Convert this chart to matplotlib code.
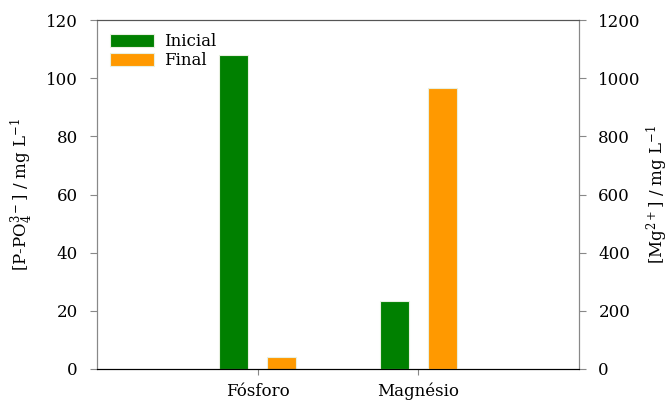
import matplotlib
matplotlib.use("Agg")
import matplotlib.pyplot as plt
import numpy as np

plt.rcParams["font.family"] = ["DejaVu Serif"]
plt.rcParams["mathtext.fontset"] = "dejavuserif"

categories = ["Fósforo", "Magnésio"]
series = ["Inicial", "Final"]
fosforo = [108, 4]        # mg/L P-PO4 (left axis)
magnesio = [234, 966]     # mg/L Mg2+ (right axis)
colors = ["#008000", "#ff9900"]

x = np.arange(len(categories))
bar_w = 0.18
offsets = [-0.15, 0.15]

fig, ax = plt.subplots(figsize=(6.7, 4.03), dpi=100)
fig.subplots_adjust(left=0.145, right=0.864, top=0.950, bottom=0.0844)
ax2 = ax.twinx()

for i, (lab, col) in enumerate(zip(series, colors)):
    ax.bar(x[0] + offsets[i], fosforo[i], width=bar_w, color=col,
           edgecolor="#e8f0e0", linewidth=0.8, label=lab)
    ax2.bar(x[1] + offsets[i], magnesio[i], width=bar_w, color=col,
            edgecolor="#e8f0e0", linewidth=0.8)

ax.set_xlim(-1, 2)
ax.set_ylim(0, 120)
ax2.set_ylim(0, 1200)
ax.set_yticks(np.arange(0, 121, 20))
ax2.set_yticks(np.arange(0, 1201, 200))
ax.set_xticks(x)
ax.set_xticklabels(categories, fontsize=12)
ax.tick_params(axis="y", labelsize=12, colors="#888888", labelcolor="black",
               length=5, pad=9)
ax2.tick_params(axis="y", labelsize=12, colors="#888888", labelcolor="black",
                length=5, pad=9)
ax.tick_params(axis="x", colors="#888888", labelcolor="black", length=4, pad=6)

for a in (ax, ax2):
    a.spines["left"].set_color("#888888")
    a.spines["right"].set_color("#888888")
    a.spines["top"].set_color("#555555")
    a.spines["bottom"].set_color("black")

ax.set_ylabel(r"[P-PO$_4^{3-}$] / mg L$^{-1}$", fontsize=12, labelpad=8)
ax2.set_ylabel(r"[Mg$^{2+}$] / mg L$^{-1}$", fontsize=12, labelpad=3)

ax.legend(loc="upper left", frameon=False, fontsize=12, handlelength=2.6,
          handleheight=0.8, handletextpad=0.6, labelspacing=0.1,
          borderaxespad=0.4)

fig.savefig("out.png", dpi=100)
